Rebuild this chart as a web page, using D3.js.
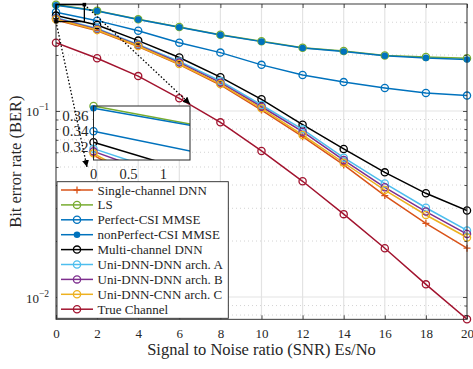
<!DOCTYPE html>
<html>
<head>
<meta charset="utf-8">
<script src="https://cdn.jsdelivr.net/npm/d3@7/dist/d3.min.js"></script>
<style>
body{margin:0;background:#fff}
svg text{font-family:"Liberation Serif","DejaVu Serif",serif;fill:#262626}
</style>
</head>
<body>
<svg id="chart" width="473" height="369"></svg>
<script>
/* donnees */
const snr = [0,2,4,6,8,10,12,14,16,18,20]
const singleDnn     = [0.309,0.270,0.222,0.1777,0.138,0.1012,0.0728,0.0513,0.0351,0.0249,0.0183]
const lsEst         = [0.373,0.346,0.311,0.283,0.257,0.237,0.219,0.210,0.199,0.195,0.192]
const perfectMmse   = [0.340,0.306,0.270,0.233,0.206,0.177,0.156,0.143,0.133,0.125,0.121]
const nonPerfMmse   = [0.370,0.345,0.310,0.282,0.256,0.236,0.218,0.209,0.198,0.193,0.189]
const multiDnn      = [0.3257,0.290,0.239,0.194,0.152,0.1156,0.0844,0.0625,0.0468,0.0361,0.0292]
const archA         = [0.3174,0.278,0.2278,0.1846,0.145,0.1077,0.0797,0.0561,0.0408,0.0302,0.0228]
const archB         = [0.3139,0.275,0.2255,0.182,0.142,0.1054,0.0774,0.0545,0.0389,0.0288,0.0218]
const archC         = [0.3113,0.2726,0.2236,0.179,0.1396,0.1034,0.0743,0.0527,0.0376,0.0276,0.0209]
const trueChannel   = [0.233,0.192,0.154,0.117,0.0869,0.061,0.0419,0.0279,0.0183,0.0117,0.0076]

/* zoom (encart) : valeurs lues dans l'encart */
const insetSnr = [0,2]
const insetSingle  = [0.309,0.205]
const insetLs      = [0.373,0.339]
const insetPerfect = [0.340,0.303]
const insetNonPerf = [0.370,0.338]
const insetMulti   = [0.3257,0.271]
const insetArchA   = [0.3174,0.257]
const insetArchB   = [0.3139,0.248]
const insetArchC   = [0.3113,0.210]

const names = ['Single-channel DNN','LS','Perfect-CSI MMSE','nonPerfect-CSI MMSE','Multi-channel DNN',
  'Uni-DNN-DNN arch. A','Uni-DNN-DNN arch. B','Uni-DNN-CNN arch. C','True Channel']
const xTicks = [0,2,4,6,8,10,12,14,16,18,20]
const yTicks = [0.01,0.1]
const yTickLabels = [['10','-2'],['10','-1']]
const insetXTicks = [0,0.5,1]
const insetYTicks = [0.32,0.34,0.36]

const colors = ['#D95319','#77AC30','#0072BD','#0072BD','#000000','#4DBEEE','#7E2F8E','#EDB120','#A2142F']
const markers = ['plus','circle','circle','dot','circle','circle','circle','circle','circle']

const series = [singleDnn,lsEst,perfectMmse,nonPerfMmse,multiDnn,archA,archB,archC,trueChannel]
  .map((v,i) => ({name:names[i], values:v, color:colors[i], marker:markers[i]}))
const insetSeries = [insetSingle,insetLs,insetPerfect,insetNonPerf,insetMulti,insetArchA,insetArchB,insetArchC]
  .map((v,i) => ({values:v, color:colors[i], marker:markers[i]}))

const plot = {left:56, right:467, top:4, bottom:319.3}
const svg = d3.select('#chart')

const xScale = d3.scaleLinear().domain([0,20]).range([plot.left,plot.right])
const yScale = d3.scaleLog().domain([0.00759,0.376]).range([plot.bottom,plot.top])

/* marqueurs */
const drawMarker = (g, x, y, d) => {
  if (d.marker==='plus'){
    g.append('path').attr('d',`M${x-3.5},${y}H${x+3.5}M${x},${y-3.5}V${y+3.5}`)
      .attr('stroke',d.color).attr('stroke-width',1.3).attr('fill','none')
  } else if (d.marker==='dot'){
    g.append('circle').attr('cx',x).attr('cy',y).attr('r',3.3).attr('fill',d.color)
  } else {
    g.append('circle').attr('cx',x).attr('cy',y).attr('r',3.6)
      .attr('fill','none').attr('stroke',d.color).attr('stroke-width',1.3)
  }
}

svg.append('defs').append('clipPath').attr('id','clipMain').append('rect')
  .attr('x',plot.left).attr('y',plot.top).attr('width',plot.right-plot.left).attr('height',plot.bottom-plot.top)

/* grille */
const grid = svg.append('g')
const minorVals = []
;[0.001,0.01,0.1].forEach(dec => { for (let k=2;k<=9;k++){ const v=k*dec; if (v>0.00759 && v<0.376) minorVals.push(v) } })
grid.selectAll('.minor').data(minorVals).enter().append('line')
  .attr('x1',plot.left).attr('x2',plot.right)
  .attr('y1',d=>yScale(d)).attr('y2',d=>yScale(d))
  .attr('stroke','#c8c8c8').attr('stroke-width',0.8).attr('stroke-dasharray','1,3')
grid.selectAll('.hmaj').data(yTicks).enter().append('line')
  .attr('x1',plot.left).attr('x2',plot.right)
  .attr('y1',d=>yScale(d)).attr('y2',d=>yScale(d))
  .attr('stroke','#e3e3e3').attr('stroke-width',1.2)
grid.selectAll('.vmaj').data(xTicks).enter().append('line')
  .attr('y1',plot.top).attr('y2',plot.bottom)
  .attr('x1',d=>xScale(d)).attr('x2',d=>xScale(d))
  .attr('stroke','#e3e3e3').attr('stroke-width',1.2)

/* courbes */
const line = d3.line().x((d,i)=>xScale(snr[i])).y(d=>yScale(d))
const curves = svg.append('g').attr('clip-path','url(#clipMain)')
series.forEach(s => {
  curves.append('path').attr('d',line(s.values)).attr('fill','none')
    .attr('stroke',s.color).attr('stroke-width',1.5)
})
const marks = svg.append('g')
series.forEach(s => {
  s.values.forEach((v,i) => drawMarker(marks, xScale(snr[i]), yScale(v), s))
})

/* axes */
const styleAxis = g => { g.select('.domain').remove(); g.selectAll('line').attr('stroke','#262626').attr('stroke-width',0.8) }
svg.append('g').attr('transform',`translate(0,${plot.bottom})`)
  .call(d3.axisBottom(xScale).tickValues(xTicks).tickSize(-4).tickSizeOuter(0).tickPadding(9))
  .call(styleAxis)
  .selectAll('text').style('font-size','13px').attr('fill','#262626')
svg.append('g').attr('transform',`translate(0,${plot.top})`)
  .call(d3.axisTop(xScale).tickValues(xTicks).tickSize(-4).tickSizeOuter(0).tickFormat(''))
  .call(styleAxis)
svg.append('g').attr('transform',`translate(${plot.left},0)`)
  .call(d3.axisLeft(yScale).tickValues(yTicks).tickSize(-4).tickSizeOuter(0).tickFormat(''))
  .call(styleAxis)
svg.append('g').attr('transform',`translate(${plot.left},0)`)
  .call(d3.axisLeft(yScale).tickValues(minorVals).tickSize(-2.5).tickSizeOuter(0).tickFormat(''))
  .call(styleAxis)
svg.append('g').attr('transform',`translate(${plot.right},0)`)
  .call(d3.axisRight(yScale).tickValues(yTicks).tickSize(-4).tickSizeOuter(0).tickFormat(''))
  .call(styleAxis)
svg.append('g').attr('transform',`translate(${plot.right},0)`)
  .call(d3.axisRight(yScale).tickValues(minorVals).tickSize(-2.5).tickSizeOuter(0).tickFormat(''))
  .call(styleAxis)

yTicks.forEach((t,i) => {
  const txt = svg.append('text').attr('x',49).attr('y',yScale(t)+5.5)
    .attr('text-anchor','end').style('font-size','13px')
  txt.append('tspan').text(yTickLabels[i][0])
  txt.append('tspan').attr('dy',-6).style('font-size','9.5px').text(yTickLabels[i][1].replace('-','\u2212'))
})

svg.append('rect').attr('x',plot.left).attr('y',plot.top)
  .attr('width',plot.right-plot.left).attr('height',plot.bottom-plot.top)
  .attr('fill','none').attr('stroke','#262626').attr('stroke-width',0.9)

/* titres des axes */
svg.append('text').attr('x',(plot.left+plot.right)/2).attr('y',355)
  .attr('text-anchor','middle').style('font-size','16.5px').text('Signal to Noise ratio (SNR) Es/No')
svg.append('text').attr('transform',`translate(20.5,${(plot.top+plot.bottom)/2}) rotate(-90)`)
  .attr('text-anchor','middle').style('font-size','16.5px').text('Bit error rate (BER)')

/* encart */
const box = {left:93.5, right:190, top:106, bottom:160}
const ix = d3.scaleLinear().domain([0,1.38]).range([box.left,box.right])
const iy = d3.scaleLinear().domain([0.3026,0.373]).range([box.bottom,box.top])

/* rectangle de zoom sur le graphique principal */
svg.append('rect').attr('x',xScale(ix.domain()[0])).attr('y',yScale(iy.domain()[1]))
  .attr('width',xScale(ix.domain()[1])-xScale(0))
  .attr('height',yScale(iy.domain()[0])-yScale(iy.domain()[1]))
  .attr('fill','none').attr('stroke','#000').attr('stroke-width',1.3)

const defs = svg.select('defs')
defs.append('marker').attr('id','arrow').attr('viewBox','0 0 10 10').attr('refX',10).attr('refY',5)
  .attr('markerWidth',7).attr('markerHeight',7).attr('orient','auto').attr('markerUnits','userSpaceOnUse')
  .append('path').attr('d','M0,0L10,5L0,10Z').attr('fill','#000')
defs.append('clipPath').attr('id','clipInset').append('rect')
  .attr('x',box.left).attr('y',box.top).attr('width',box.right-box.left).attr('height',box.bottom-box.top)

const inset = svg.append('g')
inset.append('rect').attr('x',box.left).attr('y',box.top)
  .attr('width',box.right-box.left).attr('height',box.bottom-box.top).attr('fill','#fff')
const iline = d3.line().x((d,i)=>ix(insetSnr[i])).y(d=>iy(d))
const icurves = inset.append('g').attr('clip-path','url(#clipInset)')
insetSeries.forEach(s => {
  icurves.append('path').attr('d',iline(s.values)).attr('fill','none')
    .attr('stroke',s.color).attr('stroke-width',1.5)
})
insetSeries.forEach(s => {
  s.values.forEach((v,i) => {
    if (insetSnr[i] <= ix.domain()[1] && v >= iy.domain()[0]) drawMarker(inset, ix(insetSnr[i]), iy(v), s)
  })
})
inset.append('rect').attr('x',box.left).attr('y',box.top)
  .attr('width',box.right-box.left).attr('height',box.bottom-box.top)
  .attr('fill','none').attr('stroke','#262626').attr('stroke-width',1)
insetXTicks.forEach(t => {
  inset.append('text').attr('x',ix(t)).attr('y',box.bottom+19).attr('text-anchor','middle')
    .style('font-size','14.5px').text(t)
})
insetYTicks.forEach(t => {
  inset.append('text').attr('x',box.left-5).attr('y',iy(t)+5).attr('text-anchor','end')
    .style('font-size','15px').text(t.toFixed(2))
})

/* fleches pointillees */
const arrows = [
  [[xScale(ix.domain()[1]),yScale(iy.domain()[1])],[190,104]],
  [[xScale(0),yScale(iy.domain()[0])],[87,167]]
]
arrows.forEach(a => {
  svg.append('line').attr('x1',a[0][0]).attr('y1',a[0][1]).attr('x2',a[1][0]).attr('y2',a[1][1])
    .attr('stroke','#000').attr('stroke-width',1.3).attr('stroke-dasharray','1.5,2')
    .attr('marker-end','url(#arrow)')
  svg.append('rect').attr('x',a[0][0]-1.8).attr('y',a[0][1]-1.8).attr('width',3.6).attr('height',3.6).attr('fill','#000')
})

/* legende */
const leg = {x:57, y:181.7, w:171.3, h:136.6, step:14.9}
const legend = svg.append('g')
legend.append('rect').attr('x',leg.x).attr('y',leg.y).attr('width',leg.w).attr('height',leg.h)
  .attr('fill','#fff').attr('stroke','#262626').attr('stroke-width',0.9)
series.forEach((s,i) => {
  const y = 190 + i*leg.step
  legend.append('line').attr('x1',61).attr('x2',93).attr('y1',y).attr('y2',y)
    .attr('stroke',s.color).attr('stroke-width',1.5)
  drawMarker(legend, 77, y, s)
  legend.append('text').attr('x',97.5).attr('y',y+4.5).style('font-size','13px').text(s.name)
})
</script>
</body>
</html>
